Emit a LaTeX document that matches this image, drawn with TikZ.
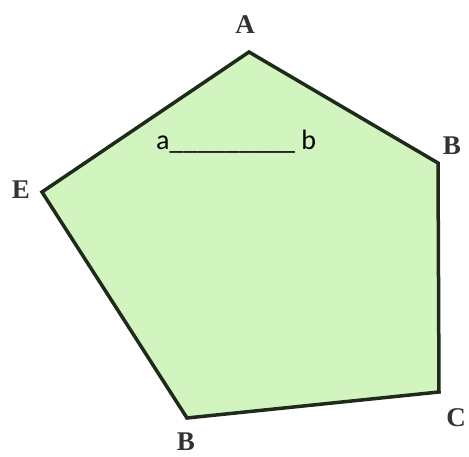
\documentclass[tikz,border=0pt]{standalone}
\usepackage{fontspec}
\setmainfont{Liberation Serif}
\newfontfamily\calfont{Carlito}
\begin{document}
\begin{tikzpicture}[x=1pt, y=-1pt]
    % Define colours
    \definecolor{borderColour}{HTML}{1E2A1A}
    \definecolor{fillColour}{HTML}{D2F5C0}

    % Styles
    \tikzset{
        vertexlabel/.style={font=\fontsize{27}{27}\selectfont\bfseries, text=black!80, inner sep=0pt},
        gaptext/.style={font=\calfont\fontsize{28}{28}\selectfont, inner sep=0pt, anchor=base west}
    }

    % Fix margins
    \useasboundingbox (0,0) rectangle (469,457);

    % Define coordinates for the pentagon
    \coordinate (A) at (249,52);
    \coordinate (B) at (438,163);
    \coordinate (C) at (439,392);
    \coordinate (D) at (187,418);
    \coordinate (E) at (42,192);

    % Draw the pentagon
    \filldraw[fill=fillColour, draw=borderColour, line width=3.5pt, line join=miter] (A) -- (B) -- (C) -- (D) -- (E) -- cycle;

    % Label the vertices
    \node[vertexlabel] (lA) at (245,25) {A};
    \node[vertexlabel] (lB) at (452,146) {B};
    \node[vertexlabel] (lC) at (456,418) {C};
    \node[vertexlabel] (lD) at (186,442) {B};
    \node[vertexlabel] (lE) at (21,190) {E};

    % Text with the blank
    \node[gaptext] (ab) at (156,150) {a\_\_\_\_\_\_\_\_\_ b};

\end{tikzpicture}
\end{document}
